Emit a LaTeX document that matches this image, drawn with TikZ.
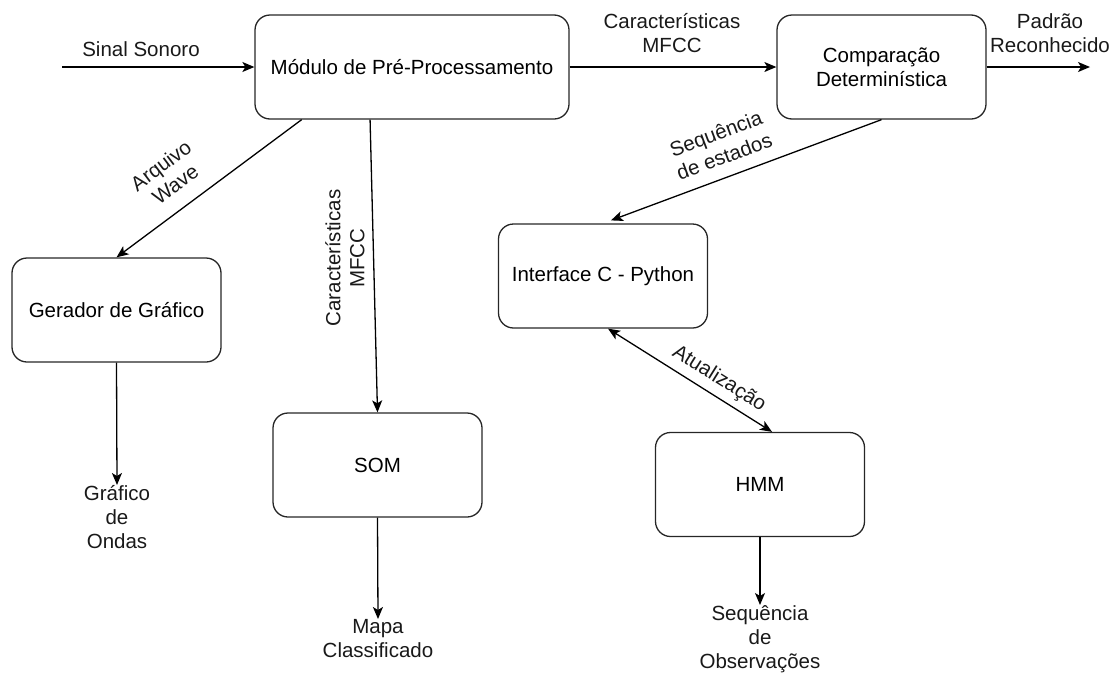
\documentclass[tikz,border=0pt]{standalone}
\usepackage{fontspec}
\setmainfont{Liberation Sans}
\usetikzlibrary{arrows.meta,calc}
\begin{document}
\begin{tikzpicture}[x=1pt,y=-1pt,
  font=\fontsize{20.5}{24}\selectfont,
  blk/.style={draw=black!85, line width=1.3pt, rounded corners=15pt,
    minimum width=209pt, minimum height=104pt, align=center, inner sep=0pt},
  lbl/.style={align=center, inner sep=0pt, text=black!90},
  conn/.style={line width=1.3pt, -{Stealth[length=12pt,width=10pt,inset=3pt]}},
  both/.style={line width=1.3pt, {Stealth[length=12pt,width=10pt,inset=3pt]}-{Stealth[length=12pt,width=10pt,inset=3pt]}}]
\useasboundingbox (0,0) rectangle (1115,675);

% processing blocks
\node[blk, minimum width=314pt] (mod) at (412,67) {Módulo de Pré-Processamento};
\node[blk] (cmp) at (881.5,67) {Comparação\\Determinística};
\node[blk] (ger) at (116.5,310) {Gerador de Gráfico};
\node[blk] (som) at (377.5,465) {SOM};
\node[blk] (itf) at (603,276) {Interface C - Python};
\node[blk] (hmm) at (760,484.5) {HMM};

% free ends and output texts
\coordinate (sin) at (62,67);
\coordinate (pad) at (1090,67);
\node[lbl, anchor=north] (gow) at (117,485) {Gráfico\\de\\Ondas};
\node[lbl, anchor=north] (map) at (378,619) {Mapa\\Classificado};
\node[lbl, anchor=north] (seq) at (760,605) {Sequência\\de\\Observações};

% connectors
\draw[conn] (sin) -- (mod.west);
\node[lbl] at (141,49) {Sinal Sonoro};
\draw[conn] (mod.east) -- (cmp.west);
\node[lbl] at (672,33) {Características\\MFCC};
\draw[conn] (cmp.east) -- (pad);
\node[lbl] at (1050,33) {Padrão\\Reconhecido};

\draw[conn] ($(mod.south west)!0.15!(mod.south east)$) -- (ger.north);
\node[lbl, rotate=37] at (168,175) {Arquivo\\Wave};

\draw[conn] ($(mod.south west)!0.367!(mod.south east)$) -- (som.north);
\node[lbl, rotate=90] at (345,258) {Características\\MFCC};

\draw[conn, shorten >=8.5pt] (cmp.south) -- (itf.north);
\node[lbl, rotate=20.6] at (720,145) {Sequência\\de estados};

\draw[both] ($(itf.south)+(5,0)$) -- ($(hmm.north)+(12,0)$);
\node[lbl, rotate=-32] at (719,379) {Atualização};

\draw[conn] (ger.south) -- (gow.north);
\draw[conn] (som.south) -- (map.north);
\draw[conn] (hmm.south) -- (seq.north);
\end{tikzpicture}
\end{document}
